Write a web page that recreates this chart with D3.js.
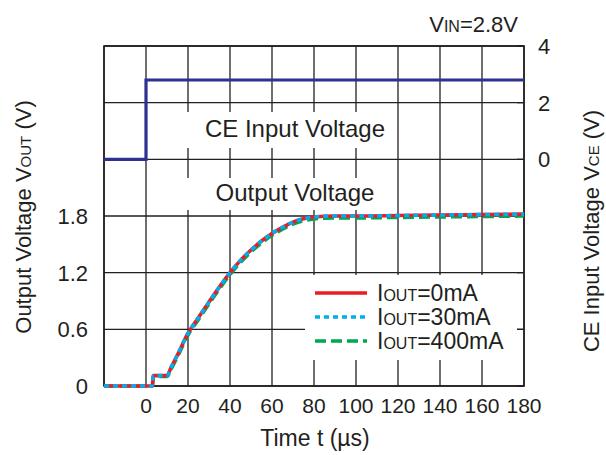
<!DOCTYPE html>
<html lang="en">
<head>
<meta charset="utf-8">
<title>Output voltage rise</title>
<script src="https://cdn.jsdelivr.net/npm/d3@7"></script>
<style>
  html, body { margin: 0; padding: 0; background: #fff; }
  svg { display: block; font-family: "Liberation Sans", Arial, sans-serif; }
</style>
</head>
<body>
<script>
// data
const xTicks = [0, 20, 40, 60, 80, 100, 120, 140, 160, 180];
const xGrid = [-20, 0, 20, 40, 60, 80, 100, 120, 140, 160, 180];
const yLeftTicks = [0, 0.6, 1.2, 1.8];
const yGrid = [0, 0.6, 1.2, 1.8, 2.4, 3.0, 3.6];
const yRightTicks = [0, 2, 4];

const ceT = [-20, 0, 0, 180];
const ceV = [0, 0, 2.8, 2.8];

const outT = [-20, 3, 3.5, 10, 12, 15, 20, 25, 30, 35, 40, 45, 50, 55, 60, 65, 70, 75, 80, 90, 100, 120, 140, 160, 180];
const out0mA = [0, 0, 0.11, 0.11, 0.2, 0.33, 0.56, 0.725, 0.89, 1.05, 1.20, 1.33, 1.44, 1.535, 1.615, 1.68, 1.735, 1.77, 1.79, 1.80, 1.80, 1.805, 1.81, 1.815, 1.82];
const out30mA = [0, 0, 0.11, 0.11, 0.2, 0.33, 0.56, 0.725, 0.89, 1.05, 1.20, 1.33, 1.44, 1.535, 1.615, 1.68, 1.735, 1.77, 1.79, 1.80, 1.80, 1.805, 1.81, 1.815, 1.82];
const out400mA = [0, 0, 0.1, 0.1, 0.18, 0.31, 0.54, 0.705, 0.87, 1.03, 1.18, 1.31, 1.42, 1.515, 1.595, 1.66, 1.715, 1.75, 1.77, 1.78, 1.78, 1.785, 1.79, 1.795, 1.80];

const ink = "#231f20";
const w = 606, h = 455;

const svg = d3.select("body").append("svg")
  .attr("width", w).attr("height", h);

const x = d3.scaleLinear([-20, 180], [104, 524]);
const yL = d3.scaleLinear([0, 3.6], [386, 46]);
const yR = d3.scaleLinear([-8, 4], [386, 46]);

// grid
const grid = svg.append("g").attr("stroke", ink).attr("stroke-width", 1.3);
grid.selectAll("line.v").data(xGrid).join("line")
  .attr("x1", d => x(d)).attr("x2", d => x(d))
  .attr("y1", yL(3.6)).attr("y2", yL(0));
grid.selectAll("line.h").data(yGrid).join("line")
  .attr("x1", x(-20)).attr("x2", x(180))
  .attr("y1", d => yL(d)).attr("y2", d => yL(d));

// white boxes behind annotations
svg.append("rect").attr("x", 183).attr("y", 112).attr("width", 210).attr("height", 36).attr("fill", "#fff");
svg.append("rect").attr("x", 183).attr("y", 178).attr("width", 210).attr("height", 32).attr("fill", "#fff");
svg.append("rect").attr("x", 305).attr("y", 275).attr("width", 212).attr("height", 85).attr("fill", "#fff");

// small inward ticks on the right side
svg.append("g").attr("stroke", ink).attr("stroke-width", 1.3)
  .selectAll("line").data(yGrid).join("line")
  .attr("x1", x(180) - 7).attr("x2", x(180))
  .attr("y1", d => yL(d)).attr("y2", d => yL(d));

// frame
svg.append("rect")
  .attr("x", x(-20)).attr("y", yL(3.6))
  .attr("width", x(180) - x(-20)).attr("height", yL(0) - yL(3.6))
  .attr("fill", "none").attr("stroke", ink).attr("stroke-width", 1.6);

// annotations
svg.append("text").attr("x", 295).attr("y", 137).attr("text-anchor", "middle")
  .attr("font-size", 24).attr("fill", ink).text("CE Input Voltage");
svg.append("text").attr("x", 295).attr("y", 201).attr("text-anchor", "middle")
  .attr("font-size", 24).attr("fill", ink).text("Output Voltage");

// curves
const lineR = d3.line().x(d => x(d[0])).y(d => yR(d[1]));

svg.append("path").datum(ceT.map((t, i) => [t, ceV[i]]))
  .attr("d", lineR).attr("fill", "none")
  .attr("stroke", "#2e3192").attr("stroke-width", 3.2);

const series = [
  { vals: out400mA, color: "#00a651", dash: "11,5" },
  { vals: out0mA, color: "#ed1c24", dash: null },
  { vals: out30mA, color: "#00aeef", dash: "5,4" }
];
series.forEach(s => {
  svg.append("path").datum(outT.map((t, i) => [t, s.vals[i]]))
    .attr("d", d3.line().x(d => x(d[0])).y(d => yL(d[1])).curve(d3.curveMonotoneX))
    .attr("fill", "none").attr("stroke", s.color).attr("stroke-width", 3.6)
    .attr("stroke-dasharray", s.dash);
});

// legend
const legend = [
  { label: "=0mA", color: "#ed1c24", dash: null },
  { label: "=30mA", color: "#00aeef", dash: "5,4" },
  { label: "=400mA", color: "#00a651", dash: "11,5" }
];
legend.forEach((d, i) => {
  const yy = 293 + i * 24;
  svg.append("line").attr("x1", 315).attr("x2", 367).attr("y1", yy).attr("y2", yy)
    .attr("stroke", d.color).attr("stroke-width", 3.6).attr("stroke-dasharray", d.dash);
  const t = svg.append("text").attr("x", 377).attr("y", yy + 8)
    .attr("font-size", 23).attr("fill", ink);
  t.append("tspan").text("I");
  t.append("tspan").attr("font-size", 16).text("OUT");
  t.append("tspan").text(d.label);
});

// tick labels
svg.append("g").selectAll("text").data(xTicks).join("text")
  .attr("x", d => x(d)).attr("y", 413).attr("text-anchor", "middle")
  .attr("font-size", 21).attr("fill", ink).text(d => d);
svg.append("g").selectAll("text").data(yLeftTicks).join("text")
  .attr("x", 88).attr("y", d => yL(d) + 8).attr("text-anchor", "end")
  .attr("font-size", 22).attr("fill", ink).text(d => d);
svg.append("g").selectAll("text").data(yRightTicks).join("text")
  .attr("x", 538).attr("y", d => yR(d) + 8).attr("text-anchor", "start")
  .attr("font-size", 22).attr("fill", ink).text(d => d);

// axis titles
svg.append("text").attr("x", 315).attr("y", 446).attr("text-anchor", "middle")
  .attr("font-size", 23).attr("fill", ink).text("Time t (\u00b5s)");

const lt = svg.append("text").attr("transform", "translate(31,217) rotate(-90)")
  .attr("text-anchor", "middle").attr("font-size", 22).attr("fill", ink);
lt.append("tspan").text("Output Voltage V");
lt.append("tspan").attr("font-size", 15).text("OUT");
lt.append("tspan").text(" (V)");

const rt = svg.append("text").attr("transform", "translate(599,231) rotate(-90)")
  .attr("text-anchor", "middle").attr("font-size", 22).attr("fill", ink);
rt.append("tspan").text("CE Input Voltage V");
rt.append("tspan").attr("font-size", 15).text("CE");
rt.append("tspan").text(" (V)");

const vin = svg.append("text").attr("x", 518).attr("y", 32).attr("text-anchor", "end")
  .attr("font-size", 22).attr("fill", ink);
vin.append("tspan").text("V");
vin.append("tspan").attr("font-size", 16).text("IN");
vin.append("tspan").text("=2.8V");
</script>
</body>
</html>
